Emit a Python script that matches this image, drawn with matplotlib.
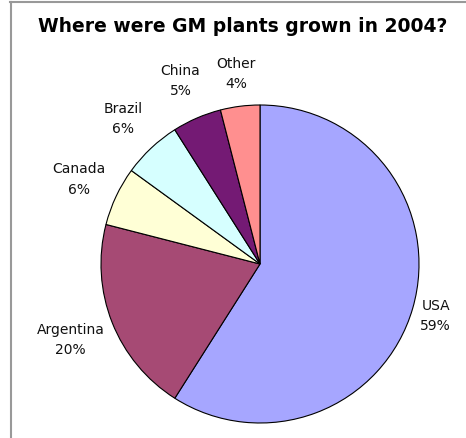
import matplotlib.pyplot as plt
from matplotlib.lines import Line2D
import numpy as np

# data
countries = ['USA', 'Argentina', 'Canada', 'Brazil', 'China', 'Other']
shares = [59, 20, 6, 6, 5, 4]
colours = ['#A6A6FF', '#A64A74', '#FFFFD6', '#D6FFFF', '#741A74', '#FF8F8F']

W, H = 466, 439
fig = plt.figure(figsize=(W / 100, H / 100), dpi=100)
fig.patch.set_facecolor('white')

# pie centre ~ (260, 265) px from top-left, radius ~159 px
cx, cy, r = 260, 265, 159
ax = fig.add_axes([(cx - r) / W, (H - cy - r) / H, 2 * r / W, 2 * r / H])

wedges, _ = ax.pie(shares, colors=colours, startangle=90, counterclock=False,
                   radius=1, wedgeprops=dict(edgecolor='black', linewidth=0.8))
ax.set_xlim(-1, 1)
ax.set_ylim(-1, 1)
ax.set_aspect('auto')
ax.axis('off')

# label distance from centre (in radii), per wedge
label_dist = [1.15, 1.28, 1.26, 1.26, 1.26, 1.21]
for w, name, val, d in zip(wedges, countries, shares, label_dist):
    mid = np.deg2rad((w.theta1 + w.theta2) / 2)
    ax.text(d * np.cos(mid), d * np.sin(mid), '%s\n%d%%' % (name, val),
            ha='center', va='center', fontsize=10, color='#111111',
            linespacing=1.6, clip_on=False)

fig.text(243 / W, 1 - 27 / H, 'Where were GM plants grown in 2004?',
         ha='center', va='center', fontsize=13.5, fontweight='bold')

# grey frame on the left and top edges
fig.add_artist(Line2D([10.5 / W, 10.5 / W], [0, 1 - 2.5 / H],
                      transform=fig.transFigure, color='#999999', lw=1.5))
fig.add_artist(Line2D([10 / W, 1], [1 - 2.5 / H, 1 - 2.5 / H],
                      transform=fig.transFigure, color='#999999', lw=1.5))

fig.savefig('out.png', dpi=100)
